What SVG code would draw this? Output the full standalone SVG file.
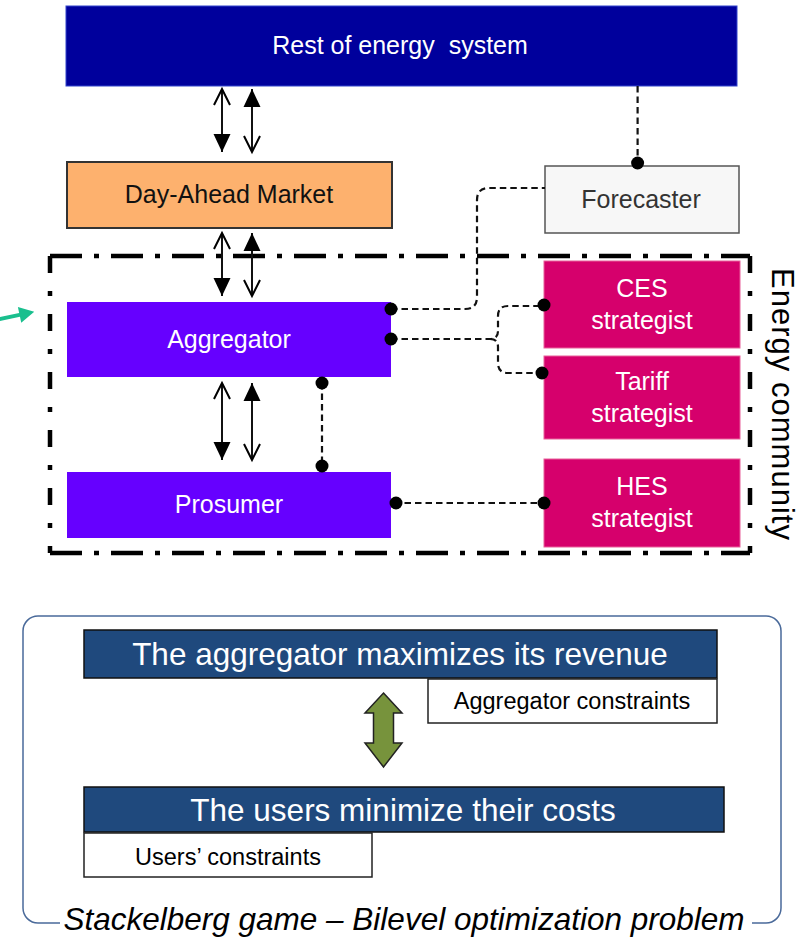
<svg xmlns="http://www.w3.org/2000/svg" width="808" height="937" viewBox="0 0 808 937">
<style>
text{font-family:"Liberation Sans",Arial,sans-serif;}
.lbl{font-size:25px;text-anchor:middle;fill:#fff;}
.dash{fill:none;stroke:#111;stroke-width:2.2;stroke-dasharray:6.5 4;}
.dot{fill:#000;}
.arr{stroke:#111;stroke-width:2;fill:none;}
.ec-h{fill:none;stroke:#000;stroke-width:4.5;stroke-dasharray:32 12 5 12;}
.ec-v{fill:none;stroke:#000;stroke-width:4.5;stroke-dasharray:17 18 5 18;}
.strat{fill:#D6006C;stroke:#E8609A;stroke-width:1;}
.navy{fill:#1F497D;stroke:#111;stroke-width:1.5;}
.wbox{fill:#fff;stroke:#222;stroke-width:1.5;}
.big{font-size:31.5px;text-anchor:middle;fill:#fff;}
.mid{font-size:23.5px;text-anchor:middle;fill:#000;}
</style>
<defs>
<marker id="fill" markerUnits="userSpaceOnUse" viewBox="-19 -10 21 20" markerWidth="21" markerHeight="20" refX="0" refY="0" orient="auto-start-reverse" overflow="visible"><path d="M0,0 L-18,-8.5 L-18,8.5Z" fill="#000"/></marker>
<marker id="open" markerUnits="userSpaceOnUse" viewBox="-19 -10 21 20" markerWidth="21" markerHeight="20" refX="0" refY="0" orient="auto-start-reverse" overflow="visible"><path d="M-16,-8 L0,0 L-16,8" fill="none" stroke="#000" stroke-width="2"/></marker>
</defs>
<rect width="808" height="937" fill="#fff"/>

<g id="rest">
<rect x="66" y="6" width="671" height="80" fill="#00009C" stroke="#3344cc" stroke-width="1"/>
<text class="lbl" x="400" y="54" style="white-space:pre">Rest of energy  system</text>
</g>
<g id="dam">
<rect x="67" y="162" width="325" height="66" fill="#FDB16E" stroke="#333" stroke-width="2"/>
<text class="lbl" x="229" y="203" style="fill:#111">Day-Ahead Market</text>
</g>
<g id="forecaster">
<rect x="545" y="166" width="194" height="67" fill="#F7F7F7" stroke="#555" stroke-width="1.5"/>
<text class="lbl" x="641" y="208" style="fill:#333">Forecaster</text>
</g>
<g id="energy-community">
<path class="ec-h" d="M50,256 H750"/>
<path class="ec-h" d="M50,553 H750"/>
<path class="ec-v" d="M50,256 V553"/>
<path class="ec-v" d="M750,256 V553"/>
<text transform="translate(772,268) rotate(90)" font-size="31" textLength="272" fill="#000">Energy community</text>
</g>
<g id="aggregator">
<rect x="67" y="302" width="324" height="75" fill="#6600FF"/>
<text class="lbl" x="229" y="348">Aggregator</text>
</g>
<g id="prosumer">
<rect x="67" y="472" width="324" height="66" fill="#6600FF"/>
<text class="lbl" x="229" y="513">Prosumer</text>
</g>
<g id="ces">
<rect class="strat" x="544" y="261" width="196" height="87"/>
<text class="lbl" x="642" y="297">CES</text>
<text class="lbl" x="642" y="329">strategist</text>
</g>
<g id="tariff">
<rect class="strat" x="544" y="356" width="196" height="83"/>
<text class="lbl" x="642" y="390">Tariff</text>
<text class="lbl" x="642" y="422">strategist</text>
</g>
<g id="hes">
<rect class="strat" x="544" y="459" width="196" height="88"/>
<text class="lbl" x="642" y="495">HES</text>
<text class="lbl" x="642" y="527">strategist</text>
</g>

<g id="connectors">
<line class="arr" x1="222" y1="89" x2="222" y2="152" marker-start="url(#open)" marker-end="url(#fill)"/>
<line class="arr" x1="252" y1="89" x2="252" y2="152" marker-start="url(#fill)" marker-end="url(#open)"/>
<line class="arr" x1="222" y1="233" x2="222" y2="296" marker-start="url(#open)" marker-end="url(#fill)"/>
<line class="arr" x1="252" y1="233" x2="252" y2="296" marker-start="url(#fill)" marker-end="url(#open)"/>
<line class="arr" x1="222" y1="383" x2="222" y2="460" marker-start="url(#open)" marker-end="url(#fill)"/>
<line class="arr" x1="252" y1="383" x2="252" y2="460" marker-start="url(#fill)" marker-end="url(#open)"/>
<path class="dash" d="M637.6,86 V163"/>
<path class="dash" d="M391,309 H465 Q477,309 477,297 V200 Q477,188 489,188 H545"/>
<path class="dash" d="M391,339 H490 Q498,339 498,331 V316 Q498,306 508,306 H544"/>
<path class="dash" d="M490,339 Q498,339 498,347 V363 Q498,373 508,373 H542"/>
<path class="dash" d="M322,383 V466"/>
<path class="dash" d="M394,503 H544"/>
<circle class="dot" cx="637.6" cy="163" r="6.5"/>
<circle class="dot" cx="391" cy="309" r="6.5"/>
<circle class="dot" cx="391" cy="339" r="6.5"/>
<circle class="dot" cx="544" cy="305" r="6.5"/>
<circle class="dot" cx="542" cy="373" r="6.5"/>
<circle class="dot" cx="322" cy="383" r="6.5"/>
<circle class="dot" cx="322" cy="466" r="6.5"/>
<circle class="dot" cx="396" cy="503" r="6.5"/>
<circle class="dot" cx="544" cy="503" r="6.5"/>
<g transform="translate(0,319) rotate(-12)"><path d="M-6,-2 H20 V-8 L35,0 L20,8 V2 H-6Z" fill="#1ABF8E"/></g>
</g>

<g id="stackelberg">
<path d="M60,923 H38 A15,15 0 0 1 23,908 V631 A15,15 0 0 1 38,616 H766 A15,15 0 0 1 781,631 V908 A15,15 0 0 1 766,923 H752" fill="none" stroke="#4A6A9A" stroke-width="1.5"/>
<text x="404" y="930" font-size="31.5" font-style="italic" text-anchor="middle" fill="#000">Stackelberg game – Bilevel optimization problem</text>
</g>
<g id="agg-objective">
<rect class="navy" x="84" y="630" width="633" height="48"/>
<text class="big" x="400" y="665">The aggregator maximizes its revenue</text>
</g>
<g id="agg-constraints">
<rect class="wbox" x="428" y="679" width="289" height="44"/>
<text class="mid" x="572" y="709">Aggregator constraints</text>
</g>
<g id="double-arrow">
<path d="M383.5,693 L402,713 H393.5 V743 H402 L383.5,767 L365,743 H373.5 V713 H365Z" fill="#77933C" stroke="#222" stroke-width="1.5" stroke-linejoin="miter"/>
</g>
<g id="users-objective">
<rect class="navy" x="84" y="787" width="640" height="45"/>
<text class="big" x="403" y="821">The users minimize their costs</text>
</g>
<g id="users-constraints">
<rect class="wbox" x="84" y="833" width="288" height="44"/>
<text class="mid" x="228" y="865">Users’ constraints</text>
</g>
</svg>
